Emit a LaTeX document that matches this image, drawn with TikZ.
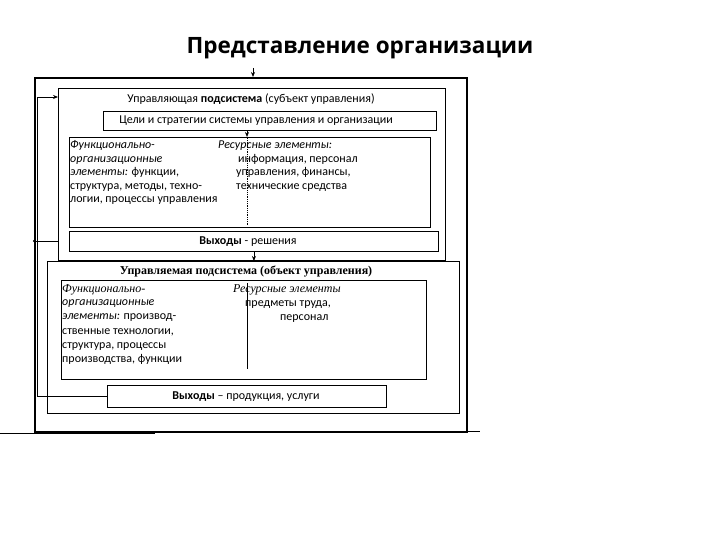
\documentclass[tikz,border=0pt]{standalone}
\usepackage{fontspec}
\setmainfont{Carlito}
\newfontfamily\titlefont{Open Sans}
\newfontfamily\seriffont{Liberation Serif}
\usetikzlibrary{arrows.meta}
\begin{document}
\begin{tikzpicture}[x=1pt,y=-1pt,
  thinbox/.style={draw=black, line width=0.9pt, inner sep=0pt, anchor=north west},
  txt/.style={inner sep=0pt, anchor=west, text height=8.5pt, text depth=2.5pt, font=\fontsize{12}{14}\selectfont},
  itx/.style={txt, font=\fontsize{12}{14}\selectfont\itshape},
  sit/.style={txt, font=\seriffont\itshape\fontsize{12}{14}\selectfont},
  conn/.style={line width=0.8pt},
  arr/.style={conn, -{Stealth[length=5pt,width=4pt]}}
]
\useasboundingbox (0,0) rectangle (720,540);

\node[font=\titlefont\bfseries\fontsize{22.5}{26}\selectfont, inner sep=0pt] (title) at (360,48) {Представление организации};

% outer frame
\node[draw=black, line width=2.4pt, inner sep=0pt, anchor=north west, minimum width=432pt, minimum height=354pt] (outer) at (34,77) {};

% control subsystem
\node[thinbox, minimum width=387pt, minimum height=172pt] (ctrl) at (58,88) {};
\node[txt, anchor=center] (ctrlt) at (251,100) {Управляющая \textbf{подсистема} (субъект управления)};
\node[thinbox, minimum width=333pt, minimum height=19pt] (goals) at (103,111) {};
\node[txt, anchor=center] (goalst) at (256,120.5) {Цели и стратегии системы управления и организации};
\node[thinbox, minimum width=361pt, minimum height=90pt] (elem1) at (69,137) {};
\node[itx] (e1a) at (70,146) {Функционально-};
\node[itx] (e1b) at (70,159.5) {организационные};
\node[txt] (e1c) at (70,173) {\textit{элементы:} функции,};
\node[txt] (e1d) at (70,186.5) {структура, методы, техно-};
\node[txt] (e1e) at (70,200) {логии, процессы управления};
\node[itx] (r1a) at (218,146) {Ресурсные элементы:};
\node[txt] (r1b) at (238,159.5) {информация, персонал};
\node[txt] (r1c) at (236,173) {управления, финансы,};
\node[txt] (r1d) at (236,186.5) {технические средства};
\coordinate (d1t) at (247,138);
\coordinate (d1b) at (247,226);
\draw[conn, densely dotted, line width=0.6pt] (d1t) -- (d1b);
\node[thinbox, minimum width=369pt, minimum height=20pt] (res) at (69,231) {};
\node[txt, anchor=center] (rest) at (248,241) {\textbf{Выходы} - решения};

% managed subsystem
\node[thinbox, fill=white, minimum width=412pt, minimum height=152pt] (man) at (47,261) {};
\node[txt, anchor=center, font=\seriffont\bfseries\fontsize{12}{14}\selectfont] (mant) at (246,271) {Управляемая подсистема (объект управления)};
\node[thinbox, minimum width=365pt, minimum height=99pt] (elem2) at (61,280) {};
\node[sit] (e2a) at (62,289) {Функционально-};
\node[itx] (e2b) at (62,302.5) {организационные};
\node[txt] (e2c) at (62,316.5) {\textit{элементы:} производ-};
\node[txt] (e2d) at (62,331) {ственные технологии,};
\node[txt] (e2e) at (62,345) {структура, процессы};
\node[txt] (e2f) at (62,359) {производства, функции};
\node[sit] (r2a) at (233,289) {Ресурсные элементы};
\node[txt] (r2b) at (245,303) {предметы труда,};
\node[txt] (r2c) at (280,317) {персонал};
\coordinate (d2t) at (247,283);
\coordinate (d2b) at (247,369);
\draw[conn, line width=0.6pt] (d2t) -- (d2b);
\node[thinbox, minimum width=279pt, minimum height=22pt] (prod) at (107,385) {};
\node[txt, anchor=center] (prodt) at (246,396) {\textbf{Выходы} – продукция, услуги};

% arrows
\coordinate (topin) at (253,68);
\draw[arr] (topin) -- (topin |- outer.north);
\draw[arr] (goals.south -| d1t) -- (elem1.north -| d1t);
\draw[arr] (res.south) -- (man.north -| res.south);

% feedback lines
\coordinate (fb1) at (37,396);
\coordinate (fb2) at (37,97);
\draw[arr] (prod.west |- fb1) -- (fb1) -- (fb2) -- (fb2 -| ctrl.west);
\coordinate (fb3) at (33,241);
\draw[conn, -{Circle[length=3pt]}] (ctrl.west |- fb3) -- (fb3);

% bottom lines
\coordinate (bl1) at (0,433);
\coordinate (bl2) at (155,433);
\coordinate (bl3) at (408,431);
\coordinate (bl4) at (480,431);
\draw[line width=0.6pt] (bl1) -- (bl2);
\draw[line width=0.6pt] (bl3) -- (bl4);
\end{tikzpicture}
\end{document}
